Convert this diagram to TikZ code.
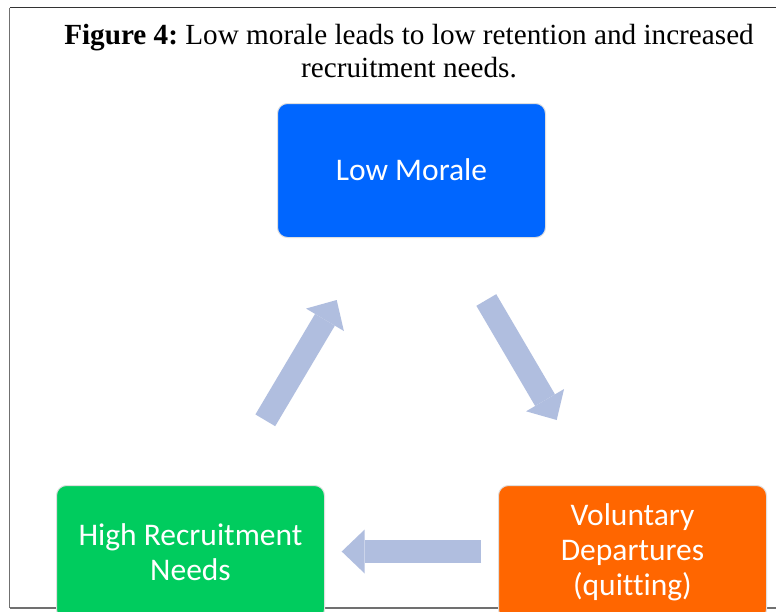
\documentclass[tikz,border=0pt]{standalone}
\usepackage{fontspec}
\setmainfont{Liberation Serif}
\newfontfamily\boxfont[Ligatures=NoCommon]{Carlito}
\usetikzlibrary{arrows.meta}
\definecolor{mblue}{HTML}{0066FF}
\definecolor{mgreen}{HTML}{00CC5E}
\definecolor{morange}{HTML}{FF6600}
\definecolor{marrow}{HTML}{B0BEDF}
\definecolor{mframe}{HTML}{707070}
\tikzset{
  stagebox/.style={draw=gray!25, line width=1pt, rounded corners=10pt, minimum width=268pt, minimum height=134pt, text=white, align=center, font=\boxfont\fontsize{31.5}{35}\selectfont, inner sep=0pt, anchor=north west},
  blockarrow/.style={draw=marrow, line width=23pt, line cap=butt, -{Triangle[length=23pt,width=44pt,line width=0pt]}},
  framestyle/.style={draw=mframe, line width=1.6pt}
}
\begin{document}
\frenchspacing
\begin{tikzpicture}[x=1pt,y=-1pt]
\useasboundingbox (0,0) rectangle (776,611);
\clip (0,0) rectangle (776,611);
\fill[white] (0,0) rectangle (776,611);
% frame
\draw[framestyle] (9.5,608) -- (9.5,7.5);
\draw[draw=black!80, line width=1.6pt] (9.5,7.5) -- (776,7.5);
\draw[framestyle] (9.5,608) -- (776,608);
% title
\node (title) [align=center, font=\fontsize{29.2}{33}\selectfont, anchor=north] at (409,21) {\textbf{Figure 4:} Low morale leads to low retention and increased\\recruitment needs.};
% boxes
\node (morale) [stagebox, fill=mblue] at (277,103) {\raisebox{2pt}{Low Morale}};
\node (recruit) [stagebox, fill=mgreen] at (56,485) {High Recruitment\\Needs};
\node (depart) [stagebox, fill=morange] at (498,485) {Voluntary\\Departures\\(quitting)};
% arrows
\coordinate (a1s) at (265.3,420.3);
\coordinate (a1e) at (336.7,300);
\coordinate (a2s) at (486.3,300);
\coordinate (a2e) at (556.7,420);
\coordinate (a3s) at (481,551.5);
\coordinate (a3e) at (341.7,551.5);
\draw[blockarrow] (a1s) -- (a1e);
\draw[blockarrow] (a2s) -- (a2e);
\draw[blockarrow] (a3s) -- (a3e);
\end{tikzpicture}
\end{document}
